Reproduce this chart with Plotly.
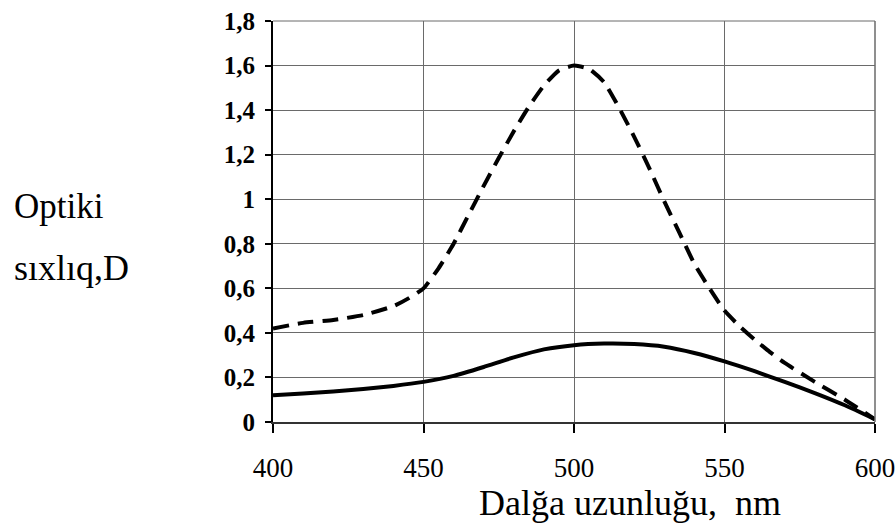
import plotly.graph_objects as go

# Wavelength grid (nm) and optical density of the two samples
wl_solid = [400, 410, 420, 430, 440, 450, 460, 470, 480, 490, 500, 510,
            520, 530, 540, 550, 560, 570, 580, 590, 600]
od_solid = [0.12, 0.128, 0.137, 0.148, 0.162, 0.18, 0.207, 0.247, 0.29,
            0.326, 0.345, 0.352, 0.35, 0.338, 0.31, 0.272, 0.228, 0.18, 0.13,
            0.075, 0.012]

wl_dash = [400, 410, 420, 430, 440, 445, 450, 455, 460, 465, 470, 475, 480, 485,
           490, 495, 500, 505, 510, 515, 520, 525, 530, 535, 540, 545, 550, 555,
           560, 565, 570, 580, 590, 600]
od_dash = [0.42, 0.445, 0.458, 0.48, 0.52, 0.555, 0.6, 0.69, 0.8, 0.93, 1.06, 1.185,
           1.305, 1.415, 1.51, 1.578, 1.6, 1.585, 1.525, 1.41, 1.28, 1.14, 0.99, 0.85,
           0.71, 0.6, 0.5, 0.43, 0.37, 0.315, 0.265, 0.18, 0.1, 0.012]

y_ticks = [0, 0.2, 0.4, 0.6, 0.8, 1.0, 1.2, 1.4, 1.6, 1.8]
y_tick_text = ["0", "0,2", "0,4", "0,6", "0,8", "1", "1,2", "1,4", "1,6", "1,8"]
x_ticks = [400, 450, 500, 550, 600]

serif = "Liberation Serif, Times New Roman, serif"
grid = "#6a6a6a"

fig = go.Figure()
fig.add_trace(go.Scatter(x=wl_dash, y=od_dash, mode="lines",
                         line=dict(color="black", width=4, dash="16px,9px",
                                   shape="spline", smoothing=0.5),
                         showlegend=False, hoverinfo="skip"))
fig.add_trace(go.Scatter(x=wl_solid, y=od_solid, mode="lines",
                         line=dict(color="black", width=4, shape="spline", smoothing=0.5),
                         showlegend=False, hoverinfo="skip"))

fig.update_layout(
    width=896, height=527,
    margin=dict(l=273, r=21, t=21, b=105),
    paper_bgcolor="white", plot_bgcolor="white",
    xaxis=dict(range=[400, 600], tickvals=x_ticks, showgrid=True, gridcolor=grid,
               gridwidth=1, zeroline=False, showline=True, linecolor="#333", linewidth=1.5,
               ticks="outside", ticklen=9, tickcolor="black", tickwidth=1.5,
               ticklabelstandoff=12, ticklabeloverflow="allow", automargin=False,
               tickfont=dict(family=serif, size=27, color="black")),
    yaxis=dict(range=[0, 1.8], tickvals=y_ticks, ticktext=y_tick_text, showgrid=True,
               gridcolor=grid, gridwidth=1, zeroline=False, showline=True,
               linecolor="black", linewidth=2, ticks="outside", ticklen=6,
               tickcolor="black", tickwidth=1.5, ticklabelstandoff=5, automargin=False,
               ticklabeloverflow="allow",
               tickfont=dict(family=serif, size=25, color="black", weight="bold")),
    shapes=[
        # frame lines along the top (1,8) and right (600 nm) edges
        dict(type="line", xref="paper", yref="paper", x0=0, x1=1, y0=1, y1=1,
             line=dict(color=grid, width=1)),
        dict(type="line", xref="paper", yref="paper", x0=1, x1=1, y0=0, y1=1,
             line=dict(color=grid, width=1.5)),
    ],
    annotations=[
        dict(text="Optiki", xref="paper", yref="paper", x=-0.4336, y=0.538,
             xanchor="left", yanchor="middle", showarrow=False,
             font=dict(family=serif, size=35, color="black")),
        dict(text="sıxlıq,D", xref="paper", yref="paper", x=-0.4336, y=0.383,
             xanchor="left", yanchor="middle", showarrow=False,
             font=dict(family=serif, size=36, color="black")),
        dict(text="Dalğa uzunluğu,\u00a0 nm", xref="paper", yref="paper", x=0.339, y=-0.2027,
             xanchor="left", yanchor="middle", showarrow=False,
             font=dict(family=serif, size=36, color="black")),
    ],
)

fig.write_html("out.html")
